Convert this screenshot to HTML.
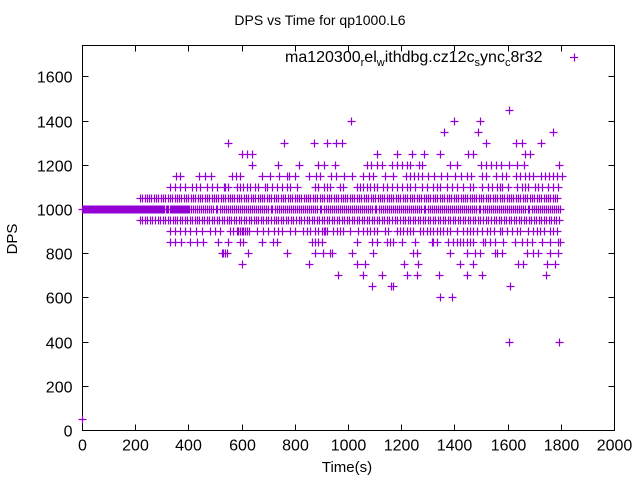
<!DOCTYPE html>
<html><head><meta charset="utf-8"><style>
html,body{margin:0;padding:0;background:#fff}
svg{display:block;font-family:"Liberation Sans",sans-serif}
</style></head><body>
<svg id="chart" width="640" height="480" viewBox="0 0 640 480">
<rect x="0" y="0" width="640" height="480" fill="#fff"/>
<text x="320" y="25" text-anchor="middle" font-size="14">DPS vs Time for qp1000.L6</text>
<text transform="translate(17,239) rotate(-90)" text-anchor="middle" font-size="15">DPS</text>
<text x="347" y="472" text-anchor="middle" font-size="15">Time(s)</text>
<g id="axes"></g>
<g id="marks"></g>
<g>
<text x="285" y="62" font-size="16">ma120300<tspan font-size="11" dy="4">r</tspan><tspan dy="-4">el</tspan><tspan font-size="11" dy="4">w</tspan><tspan dy="-4">ithdbg.cz12c</tspan><tspan font-size="11" dy="4">s</tspan><tspan dy="-4">ync</tspan><tspan font-size="11" dy="4">c</tspan><tspan dy="-4">8r32</tspan></text>
<path d="M570 57.5h8M574.5 53.5v8" stroke="#9400d3" stroke-width="1.2"/>
</g>
</svg>
<script>
const xTicks=[0,200,400,600,800,1000,1200,1400,1600,1800,2000];
const yTicks=[0,200,400,600,800,1000,1200,1400,1600];
const levels=[50,400,600,650,700,750,800,850,900,950,1000,1050,1100,1150,1200,1250,1300,1350,1400,1450];
const t50=[0];
const t400=[1606,1793];
const t600=[1346,1391];
const t650=[1090,1162,1169,1609];
const t700=[963,1057,1128,1222,1260,1342,1448,1504,1745];
const t750=[602,854,1034,1064,1211,1263,1421,1470,1639,1658,1748,1779];
const t800=[526,530,538,545,624,771,876,906,932,940,1015,1094,1245,1260,1384,1448,1478,1497,1553,1561,1579,1673,1696,1715,1760,1790];
const t850=[331,350,372,406,432,455,511,549,594,605,677,718,733,865,876,887,902,1034,1090,1109,1147,1158,1169,1203,1252,1316,1320,1335,1376,1395,1410,1421,1433,1448,1459,1470,1508,1515,1534,1553,1583,1628,1654,1673,1692,1730,1760,1790,1797];
const t900=[331,350,368,387,406,429,450,482,500,519,557,569,582,588,594,601,607,613,619,626,657,682,701,720,738,751,782,801,832,845,857,876,889,901,908,914,920,945,958,970,983,1008,1039,1058,1071,1083,1096,1108,1139,1152,1183,1196,1208,1221,1233,1246,1271,1283,1296,1309,1321,1334,1346,1359,1371,1384,1409,1434,1446,1459,1471,1484,1503,1522,1534,1547,1572,1578,1597,1616,1634,1647,1678,1697,1709,1722,1735,1760,1772,1785];
const t950=[218,226,237,245,256,263,275,284,292,303,311,322,330,341,350,358,369,377,388,396,407,415,426,433,441,452,460,471,478,489,497,508,516,527,535,546,553,561,572,580,591,599,610,618,629,637,648,655,663,674,682,693,701,712,720,731,738,749,757,768,776,787,795,806,814,825,833,844,852,863,871,882,890,901,909,920,928,939,947,958,966,977,985,996,1004,1015,1023,1034,1042,1053,1061,1072,1080,1091,1099,1110,1118,1129,1137,1148,1156,1167,1175,1186,1194,1205,1213,1224,1232,1243,1251,1262,1270,1281,1289,1300,1308,1319,1327,1338,1346,1357,1365,1376,1384,1395,1403,1414,1422,1433,1441,1452,1460,1471,1479,1490,1498,1509,1517,1528,1536,1547,1555,1566,1574,1585,1593,1604,1612,1623,1631,1642,1650,1661,1669,1680,1688,1699,1707,1718,1726,1737,1745,1756,1764,1775,1783,1794];
const t1000=[0,2,4,6,8,10,12,14,16,18,20,22,24,26,28,30,32,34,36,38,40,42,44,46,48,50,52,54,56,58,60,62,64,66,68,70,72,74,76,78,80,82,84,86,88,90,92,94,96,98,100,102,104,106,108,110,112,114,116,118,120,122,124,126,128,130,132,134,136,138,140,142,144,146,148,150,152,154,156,158,160,162,164,166,168,170,172,174,176,178,180,182,184,186,188,190,192,194,196,198,200,202,204,206,208,210,213,218,222,226,230,233,237,241,245,249,252,256,260,264,268,272,275,279,283,287,291,295,298,302,306,310,314,318,321,325,329,333,337,341,344,348,352,356,360,364,367,371,375,379,383,387,390,394,398,402,410,417,425,433,440,448,456,463,471,479,486,494,502,509,517,525,532,540,548,555,563,571,578,586,594,601,609,617,624,632,640,647,655,663,670,678,686,693,701,709,716,724,732,739,747,755,762,770,778,785,793,801,808,816,824,831,839,847,854,862,870,877,885,893,900,908,916,923,931,939,946,954,962,969,977,985,992,1000,1008,1015,1023,1031,1038,1046,1054,1061,1069,1077,1084,1092,1100,1107,1115,1123,1130,1138,1146,1153,1161,1169,1176,1184,1192,1199,1207,1215,1222,1230,1238,1245,1253,1261,1268,1276,1284,1291,1299,1307,1314,1322,1330,1337,1345,1353,1360,1368,1376,1383,1391,1399,1406,1414,1422,1429,1437,1445,1452,1460,1468,1475,1483,1491,1498,1506,1514,1521,1529,1537,1544,1552,1560,1567,1575,1583,1590,1598,1606,1613,1621,1629,1636,1644,1652,1659,1667,1675,1682,1690,1698,1705,1713,1721,1728,1736,1744,1751,1759,1767,1774,1782,1790,1798];
const t1050=[218,227,236,244,253,261,270,279,287,296,305,313,322,331,339,348,357,365,374,383,391,400,409,417,426,435,443,452,461,469,478,487,495,504,513,521,530,539,547,556,565,573,582,591,599,608,617,625,634,643,651,660,669,677,686,695,703,712,721,729,738,747,755,764,773,781,790,799,807,816,825,833,842,851,859,868,877,885,894,903,911,920,929,937,946,955,963,972,981,989,998,1007,1015,1024,1033,1041,1050,1059,1067,1076,1085,1093,1102,1111,1119,1128,1137,1145,1154,1163,1171,1180,1189,1197,1206,1215,1223,1232,1241,1249,1258,1267,1275,1284,1293,1301,1310,1319,1327,1336,1345,1353,1362,1371,1379,1388,1397,1405,1414,1423,1431,1440,1449,1457,1466,1475,1483,1492,1501,1509,1518,1527,1535,1544,1553,1561,1570,1579,1587,1596,1605,1613,1622,1631,1639,1648,1657,1665,1674,1683,1691,1700,1709,1717,1726,1735,1743,1752,1761,1769,1778,1787];
const t1100=[331,350,368,387,414,429,444,469,488,507,532,538,550,582,594,607,619,632,651,663,688,695,713,732,751,770,782,807,876,889,908,920,933,970,983,1033,1045,1058,1071,1083,1096,1108,1133,1146,1164,1183,1202,1221,1233,1252,1277,1296,1321,1334,1346,1371,1390,1409,1434,1459,1471,1503,1528,1540,1559,1572,1578,1603,1634,1653,1666,1678,1703,1716,1728,1753,1772,1791];
const t1150=[353,368,440,463,485,564,579,594,677,707,741,771,778,801,854,880,895,936,955,985,1015,1056,1079,1094,1139,1169,1218,1233,1248,1263,1278,1301,1323,1350,1372,1402,1425,1448,1463,1504,1519,1557,1579,1594,1632,1647,1666,1681,1696,1726,1741,1756,1771,1786,1805];
const t1200=[639,737,816,887,910,951,1071,1086,1109,1128,1165,1184,1203,1222,1233,1267,1278,1383,1410,1500,1519,1538,1556,1575,1605,1635,1662,1793];
const t1250=[601,620,639,1109,1184,1241,1286,1346,1451,1470,1665,1684];
const t1300=[549,759,872,921,955,977,1519,1632,1654,1726];
const t1350=[1361,1489,1771];
const t1400=[1011,1398,1496];
const t1450=[1605];
const series=[t50,t400,t600,t650,t700,t750,t800,t850,t900,t950,t1000,t1050,t1100,t1150,t1200,t1250,t1300,t1350,t1400,t1450];

const X0=82.5,X1=614.5,Y0=430.5,YT=45.5;
const xMax=2000,yMax=1742;
function xs(t){return X0+t*(X1-X0)/xMax;}
function ys(v){return Y0-v*(Y0-YT)/yMax;}
function snap(p){return Math.round(p-0.5)+0.5;}
const NS='http://www.w3.org/2000/svg';
const axes=document.getElementById('axes');
const marks=document.getElementById('marks');

const frame=document.createElementNS(NS,'rect');
frame.setAttribute('x',X0);frame.setAttribute('y',YT);
frame.setAttribute('width',X1-X0);frame.setAttribute('height',Y0-YT);
frame.setAttribute('fill','none');frame.setAttribute('stroke','#000');


axes.appendChild(frame);

let td='';
xTicks.forEach(v=>{const x=snap(xs(v));td+=`M${x} ${Y0}v-6M${x} ${YT}v6`;
 const t=document.createElementNS(NS,'text');
 t.setAttribute('x',x);t.setAttribute('y',Y0+20);t.setAttribute('text-anchor','middle');t.setAttribute('font-size','16');
 t.textContent=v;
 
 
 axes.appendChild(t);});
yTicks.forEach(v=>{const y=snap(ys(v));td+=`M${X0} ${y}h6M${X1} ${y}h-6`;
 const t=document.createElementNS(NS,'text');
 t.setAttribute('x',X0-10);t.setAttribute('y',y+6);t.setAttribute('text-anchor','end');t.setAttribute('font-size','16');
 t.textContent=v;
 
 
 axes.appendChild(t);});
const tp=document.createElementNS(NS,'path');
tp.setAttribute('d',td);tp.setAttribute('stroke','#000');tp.setAttribute('fill','none');


axes.appendChild(tp);

levels.forEach((lv,i)=>{
 let d='';
 series[i].forEach(t=>{const x=snap(xs(t)),y=snap(ys(lv));d+=`M${x-4} ${y}h8M${x} ${y-4}v8`;});
 const p=document.createElementNS(NS,'path');
 p.setAttribute('d',d);p.setAttribute('stroke','#9400d3');p.setAttribute('stroke-width','1.2');p.setAttribute('fill','none');
 
 
 marks.appendChild(p);
});
</script>
</body></html>
